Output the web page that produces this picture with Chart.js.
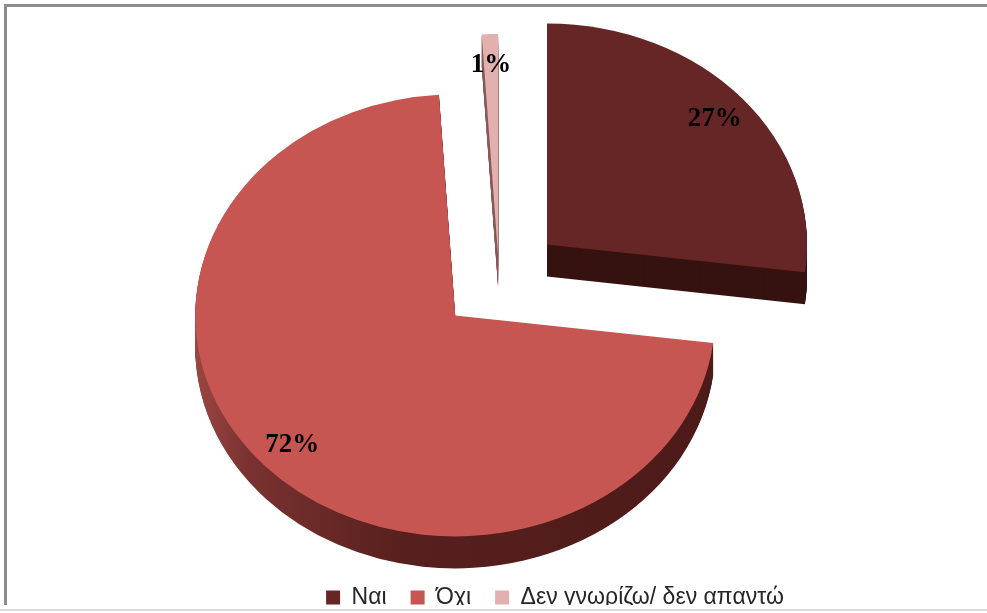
<!DOCTYPE html>
<html>
<head>
<meta charset="utf-8">
<script src="https://cdn.jsdelivr.net/npm/chart.js@4"></script>
<style>
  html, body { margin: 0; padding: 0; background: #fff; overflow: hidden; }
  #frame {
    position: absolute; left: 4px; top: 4px;
    width: 1100px; height: 598px;
    border-left: 3px solid #8c8c8c; border-top: 3px solid #8c8c8c;
    overflow: hidden;
  }
  #frame canvas { display: block; }
  #rule { position: absolute; left: 0; top: 609px; width: 100%; height: 2px; background: #dcdcdc; }
</style>
</head>
<body>
<div id="frame"><canvas id="pie" width="1096" height="612"></canvas></div>
<div id="rule"></div>
<script>
const labels = ['Ναι', 'Όχι', 'Δεν γνωρίζω/ δεν απαντώ'];
const percents = [27, 72, 1];

const topColors = ['#652625', '#c75552', '#e2b0af'];

// side wall shade for each wedge (Όχι gets a lit left edge)
function sideFill(ctx, i, cx, r) {
  if (i === 1) {
    const g = ctx.createLinearGradient(cx - r, 0, cx + r, 0);
    g.addColorStop(0, '#9a4643');
    g.addColorStop(0.1, '#7a3230');
    g.addColorStop(0.4, '#57201e');
    g.addColorStop(1, '#4c1a19');
    return g;
  }
  return i === 0 ? '#361211' : '#8a5a5a';
}

// tilted, exploded pie: squash the drawing vertically and stamp a wall under each wedge
const pie3d = {
  id: 'pie3d',
  beforeDatasetsDraw(chart, args, opts) {
    const ctx = chart.ctx;
    const arcs = chart.getDatasetMeta(0).data;
    const cx = arcs[0].x, cy = arcs[0].y;
    ctx.save();
    ctx.translate(cx + opts.shiftX, cy + opts.shiftY);
    ctx.scale(1, opts.tilt);
    ctx.translate(-cx, -cy);

    arcs.forEach((arc, i) => {
      const mid = (arc.startAngle + arc.endAngle) / 2;
      const ex = opts.explode[i];
      const wall = Object.create(arc);
      wall.options = Object.assign({}, arc.options, {
        backgroundColor: sideFill(ctx, i, cx, arc.outerRadius),
        borderWidth: 0
      });
      for (let k = opts.depth; k > 0; k--) {
        ctx.save();
        ctx.translate(Math.cos(mid) * ex, Math.sin(mid) * ex + k / opts.tilt);
        wall.draw(ctx);
        ctx.restore();
      }
    });

    arcs.forEach((arc, i) => {
      const mid = (arc.startAngle + arc.endAngle) / 2;
      const ex = opts.explode[i];
      ctx.save();
      ctx.translate(Math.cos(mid) * ex, Math.sin(mid) * ex);
      arc.draw(ctx);
      ctx.restore();
    });

    ctx.restore();
    return false;
  },
  afterDraw(chart, args, opts) {
    const ctx = chart.ctx;
    const arcs = chart.getDatasetMeta(0).data;
    const cx = arcs[0].x, cy = arcs[0].y;
    const values = chart.data.datasets[0].data;
    ctx.save();
    ctx.font = 'bold 27px "Liberation Serif"';
    ctx.fillStyle = '#000';
    ctx.textAlign = 'center';
    ctx.textBaseline = 'middle';
    arcs.forEach((arc, i) => {
      const mid = (arc.startAngle + arc.endAngle) / 2;
      const d = opts.explode[i] + arc.outerRadius * opts.labelAt;
      const px = cx + Math.cos(mid) * d;
      const py = cy + Math.sin(mid) * d;
      ctx.fillText(values[i] + '%', px + opts.shiftX, cy + opts.shiftY + (py - cy) * opts.tilt);
    });
    ctx.restore();
  }
};

new Chart(document.getElementById('pie'), {
  type: 'pie',
  data: {
    labels: labels,
    datasets: [{
      data: percents,
      backgroundColor: topColors,
      borderWidth: 0
    }]
  },
  options: {
    responsive: false,
    animation: false,
    radius: 260,
    plugins: {
      tooltip: { enabled: false },
      legend: {
        position: 'bottom',
        labels: {
          font: { family: 'Liberation Sans', size: 23 },
          color: '#262626',
          boxWidth: 14,
          boxHeight: 14,
          padding: 24
        }
      },
      pie3d: {
        tilt: 0.85,
        depth: 32,
        explode: [64, 60, 30],
        shiftX: -56,
        shiftY: -4,
        labelAt: 0.86
      }
    }
  },
  plugins: [pie3d]
});
</script>
</body>
</html>
